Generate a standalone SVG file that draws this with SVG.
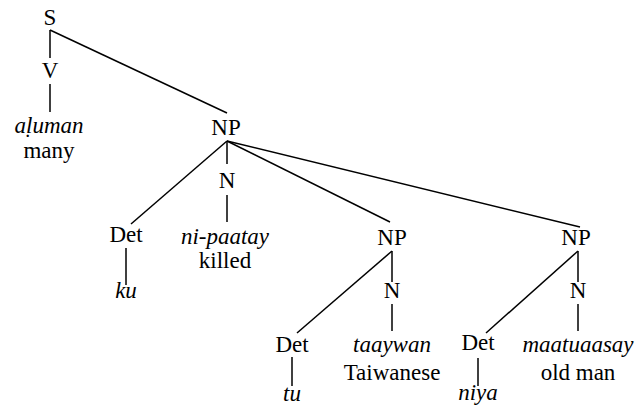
<svg xmlns="http://www.w3.org/2000/svg" width="636" height="407" viewBox="0 0 636 407">
<style>
text{font-family:"Liberation Serif","Times New Roman",serif;font-size:23px;fill:#000;text-anchor:middle}
.i{font-style:italic}
#edges line{stroke:#000;stroke-width:1.5}
</style>
<rect width="636" height="407" fill="#fff"/>
<g id="edges">
<line x1="50" y1="30" x2="50" y2="58"/>
<line x1="50" y1="84" x2="50" y2="112"/>
<line x1="50" y1="30" x2="227" y2="113"/>
<line x1="227" y1="141" x2="131" y2="224"/>
<line x1="126" y1="248" x2="126" y2="285"/>
<line x1="227" y1="141" x2="227" y2="164"/>
<line x1="227" y1="195" x2="227" y2="222"/>
<line x1="227" y1="141" x2="390" y2="222"/>
<line x1="392" y1="251" x2="297" y2="333"/>
<line x1="292" y1="357" x2="292" y2="386"/>
<line x1="392" y1="251" x2="392" y2="282"/>
<line x1="392" y1="304" x2="392" y2="331"/>
<line x1="227" y1="141" x2="580" y2="227"/>
<line x1="578" y1="251" x2="486" y2="333"/>
<line x1="478" y1="358" x2="478" y2="386"/>
<line x1="578" y1="251" x2="578" y2="282"/>
<line x1="578" y1="304" x2="578" y2="331"/>
</g>
<g id="S"><text x="50" y="25">S</text></g>
<g id="V"><text x="50" y="78">V</text></g>
<g id="aluman"><text class="i" x="49" y="133">aḷuman</text><text x="49" y="158">many</text></g>
<g id="NP1"><text x="226" y="135">NP</text></g>
<g id="Det1"><text x="126" y="242">Det</text></g>
<g id="ku"><text class="i" x="126" y="298">ku</text></g>
<g id="N1"><text x="227" y="188">N</text></g>
<g id="nipaatay"><text class="i" x="225" y="244">ni-paatay</text><text x="225" y="268">killed</text></g>
<g id="NP2"><text x="392" y="245">NP</text></g>
<g id="Det2"><text x="292" y="352">Det</text></g>
<g id="tu"><text class="i" x="292" y="401">tu</text></g>
<g id="N2"><text x="392" y="298">N</text></g>
<g id="taaywan"><text class="i" x="392" y="352">taaywan</text><text x="392" y="380">Taiwanese</text></g>
<g id="NP3"><text x="576" y="245">NP</text></g>
<g id="Det3"><text x="478" y="350">Det</text></g>
<g id="niya"><text class="i" x="478" y="400">niya</text></g>
<g id="N3"><text x="578" y="298">N</text></g>
<g id="maatuaasay"><text class="i" x="578" y="352">maatuaasay</text><text x="578" y="380">old man</text></g>
</svg>
